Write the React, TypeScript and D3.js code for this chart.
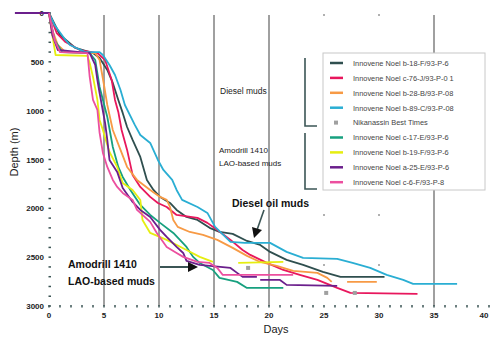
import * as d3 from 'd3';

type Pt = [number, number] | null;

// series: [day, depth (m)], null = gap in the line
const b18F: Pt[] = [[0, 0], [1.0, 225], [2.4, 358], [4.0, 410], [4.6, 460], [5.3, 583], [5.8, 716], [6.3, 890], [6.7, 1023], [7.1, 1167], [7.6, 1300], [8.3, 1474], [8.9, 1709], [9.5, 1812], [10.1, 1883], [11.0, 1945], [11.6, 2016], [12.5, 2088], [13.5, 2119], [14.6, 2200], [15.5, 2242], [16.7, 2262], [18.0, 2334], [19.2, 2375], [20.1, 2446], [21.6, 2528], [23.1, 2579], [24.9, 2651], [26.5, 2702], [30.5, 2702]];
const c76J: Pt[] = [[0, 0], [0.7, 205], [1.5, 297], [2.8, 379], [4.4, 410], [5.1, 481], [5.7, 686], [6.0, 890], [6.3, 1013], [6.6, 1198], [7.1, 1402], [7.6, 1658], [8.3, 1781], [9.2, 1883], [9.9, 1945], [10.7, 1986], [11.6, 2068], [13.5, 2098], [14.4, 2149], [15.3, 2221], [16.5, 2323], [17.6, 2426], [18.3, 2477], [19.8, 2559], [21.3, 2631], [22.8, 2682], [24.4, 2733], [26.2, 2815], [27.4, 2866], [33.5, 2876]];
const b28B: Pt[] = [[0, 0], [0.3, 174], [0.8, 328], [1.5, 400], [4.2, 410], [4.6, 481], [5.0, 737], [5.3, 942], [5.8, 1198], [6.5, 1402], [7.1, 1576], [8.0, 1709], [9.2, 1812], [10.1, 1883], [10.7, 1914], [11.0, 1986], [11.3, 2119], [11.7, 2190], [12.8, 2242], [14.0, 2272], [15.3, 2323], [16.7, 2405], [18.0, 2487], [19.2, 2549], [20.7, 2590], [22.2, 2641], [24.4, 2661], [25.3, 2712], [25.7, 2753], null, [27.1, 2753], [29.8, 2753]];
const b89C: Pt[] = [[0, 0], [0.5, 123], [1.5, 276], [1.9, 328], [3.3, 400], [4.6, 400], [4.9, 430], [5.5, 532], [6.0, 635], [6.5, 788], [6.9, 942], [7.8, 1146], [8.3, 1249], [9.2, 1331], [9.9, 1505], [10.4, 1607], [11.2, 1709], [11.6, 1812], [12.1, 1914], [13.5, 1986], [14.4, 2047], [15.1, 2190], [16.5, 2344], [17.8, 2354], [20.1, 2354], [21.6, 2446], [23.1, 2508], [26.2, 2518], [27.6, 2559], [29.2, 2610], [30.7, 2682], [32.2, 2733], [33.1, 2774], [37.1, 2774]];
const c17E: Pt[] = [[0, 0], [0.5, 276], [1.2, 400], [3.7, 410], [4.2, 481], [4.6, 757], [5.3, 1065], [5.8, 1372], [6.3, 1576], [6.7, 1679], [7.4, 1812], [8.3, 1965], [9.2, 2068], [10.1, 2149], [11.3, 2252], [11.9, 2323], [12.5, 2395], [13.1, 2497], [13.7, 2559], [14.9, 2631], [15.5, 2712], [17.1, 2753], [18.0, 2815], [21.3, 2815]];
const b19F: Pt[] = [[0, 0], [0.3, 225], [0.6, 430], [3.5, 440], [3.7, 512], [4.0, 655], [4.4, 890], [4.6, 1095], [4.9, 1198], [5.3, 1351], [5.5, 1423], [6.2, 1576], [6.7, 1740], [7.6, 1812], [8.3, 1914], [8.5, 2119], [9.2, 2252], [10.7, 2323], [12.5, 2426], [13.7, 2497], [14.9, 2549], null, [17.2, 2559], [21.3, 2549]];
const a25E: Pt[] = [[-3.1, 0], [0, 0], [0.3, 225], [0.8, 379], [3.7, 410], [4.2, 532], [4.4, 686], [4.6, 819], [5.1, 1126], [5.3, 1300], [5.5, 1505], [6.2, 1627], [6.7, 1791], [7.6, 1935], [8.3, 2016], [9.2, 2088], [10.1, 2221], [10.7, 2293], [11.6, 2395], [12.2, 2457], [12.5, 2538], [13.7, 2579], [16.5, 2610], [17.1, 2661], [17.6, 2702], [18.9, 2702], null, [19.2, 2733], [21.0, 2733], [21.6, 2784], [26.2, 2794]];
const c6F: Pt[] = [[0, 0], [0.5, 276], [1.0, 400], [3.5, 410], [3.7, 655], [4.0, 890], [4.4, 993], [4.6, 1228], [4.9, 1433], [5.3, 1576], [5.8, 1709], [6.2, 1781], [6.7, 1842], [7.6, 1914], [8.0, 2016], [9.2, 2139], [9.8, 2252], [10.7, 2395], [11.6, 2457], [12.2, 2497], [13.5, 2549], [14.6, 2559], [15.3, 2610], [15.8, 2682], [22.2, 2682]];
const nikanassin: [number, number][] = [[18.1, 2610], [25.2, 2866], [27.8, 2866]];

const seriesNames = [
  'Innovene Noel b-18-F/93-P-6',
  'Innovene Noel c-76-J/93-P-0 1',
  'Innovene Noel b-28-B/93-P-08',
  'Innovene Noel b-89-C/93-P-08',
  'Nikanassin Best Times',
  'Innovene Noel c-17-E/93-P-6',
  'Innovene Noel b-19-F/93-P-6',
  'Innovene Noel a-25-E/93-P-6',
  'Innovene Noel c-6-F/93-P-8',
];
const seriesColors = ['#2f4f4f', '#e8175d', '#f79a45', '#2aaed3', '#9a9a9a', '#17a07f', '#e6ee10', '#6b1f8c', '#ec4f9f'];
const seriesData: (Pt[] | null)[] = [b18F, c76J, b28B, b89C, null, c17E, b19F, a25E, c6F];

const xTicks = [0, 5, 10, 15, 20, 25, 30, 35, 40];
const yTicks = [0, 500, 1000, 1500, 2000, 2500, 3000];
const gridDays = [5, 10, 15, 20, 35];
const dottedDays = [25, 30];

const W = 491;
const H = 337;

export default function App() {
  const x = d3.scaleLinear().domain([0, 40]).range([49, 489]);
  const y = d3.scaleLinear().domain([0, 3000]).range([13, 306]);
  const line = d3
    .line<Pt>()
    .defined((d) => d !== null)
    .x((d) => x((d as [number, number])[0]))
    .y((d) => y((d as [number, number])[1]));

  const minorX = d3.range(0, 41, 1);
  const minorY = d3.range(0, 3001, 100);
  const font = 'Liberation Sans, Arial, sans-serif';
  const dark = '#3b5555';
  const legX = 323;
  const legY = 53;
  const rowH = 14.9;

  return (
    <svg width={W} height={H} style={{ position: 'absolute', left: 0, top: 0, background: '#fff' }} fontFamily={font}>
      {gridDays.map((d) => (
        <line key={'g' + d} x1={x(d)} x2={x(d)} y1={15} y2={306} stroke="#a0a0a0" strokeWidth={2} />
      ))}
      {dottedDays.map((d) => (
        <line key={'dg' + d} x1={x(d)} x2={x(d)} y1={14} y2={306} stroke="#b0b0b0" strokeWidth={2} strokeDasharray="2 48" />
      ))}

      {/* y axis ticks */}
      {minorY.map((v) => (
        <line key={'ym' + v} x1={48.5} x2={51} y1={y(v)} y2={y(v)} stroke={dark} strokeWidth={1.5} />
      ))}
      {yTicks.map((v) => (
        <text key={'yt' + v} x={44} y={y(v) + 3} textAnchor="end" fontSize={8} fontWeight="bold" fill="#222">
          {v}
        </text>
      ))}
      {/* x axis ticks */}
      {minorX.map((v) => (
        <line key={'xm' + v} x1={x(v)} x2={x(v)} y1={305} y2={307.5} stroke={dark} strokeWidth={1.5} />
      ))}
      {xTicks.map((v) => (
        <text key={'xt' + v} x={v === 40 ? x(v) - 5 : x(v)} y={318} textAnchor="middle" fontSize={8} fontWeight="bold" fill="#222">
          {v}
        </text>
      ))}
      <text x={276} y={333} textAnchor="middle" fontSize={11} fill="#222">
        Days
      </text>
      <text transform="translate(18,152) rotate(-90)" textAnchor="middle" fontSize={11} fill="#222">
        Depth (m)
      </text>

      {/* series */}
      {seriesData.map((s, i) =>
        s ? (
          <path key={'s' + i} d={line(s) || ''} fill="none" stroke={seriesColors[i]} strokeWidth={1.8} strokeLinejoin="round" />
        ) : null,
      )}
      {nikanassin.map((p, i) => (
        <rect key={'n' + i} x={x(p[0]) - 2} y={y(p[1]) - 2} width={4} height={4} fill="#a0a0a0" />
      ))}

      {/* legend */}
      <rect x={legX} y={legY} width={162} height={137} fill="#fff" stroke="#c8c8c8" strokeWidth={1} />
      {seriesNames.map((n, i) => {
        const cy = legY + 10 + i * rowH;
        return (
          <g key={'l' + i}>
            {i === 4 ? (
              <rect x={334} y={cy - 2} width={4} height={4} fill="#a0a0a0" />
            ) : (
              <line x1={330} x2={343} y1={cy} y2={cy} stroke={seriesColors[i]} strokeWidth={2.5} />
            )}
            <text x={353} y={cy + 2.8} fontSize={7.4} fill="#444">
              {n}
            </text>
          </g>
        );
      })}

      {/* brackets */}
      <path d="M305,58 V126 H317" fill="none" stroke={dark} strokeWidth={1.6} />
      <path d="M305,133 V189 H317" fill="none" stroke={dark} strokeWidth={1.6} />
      <text x={220} y={94} fontSize={8.5} fill="#222">
        Diesel muds
      </text>
      <text x={219} y={153} fontSize={8} fill="#222">
        Amodrill 1410
      </text>
      <text x={219} y={166} fontSize={8} fill="#222">
        LAO-based muds
      </text>

      {/* annotations */}
      <text x={232} y={207} fontSize={10.5} fontWeight="bold" fill="#111">
        Diesel oil muds
      </text>
      <line x1={264} x2={257} y1={210} y2={230} stroke={dark} strokeWidth={1.6} />
      <path d="M254,238 L252,227 L262,230 Z" fill="#111" />
      <text x={68} y={268} fontSize={10.5} fontWeight="bold" fill="#111">
        Amodrill 1410
      </text>
      <text x={68} y={285} fontSize={10.5} fontWeight="bold" fill="#111">
        LAO-based muds
      </text>
      <line x1={160} x2={190} y1={267} y2={267} stroke={dark} strokeWidth={2} />
      <path d="M198,267 L188,262 L188,272 Z" fill="#111" />
    </svg>
  );
}
